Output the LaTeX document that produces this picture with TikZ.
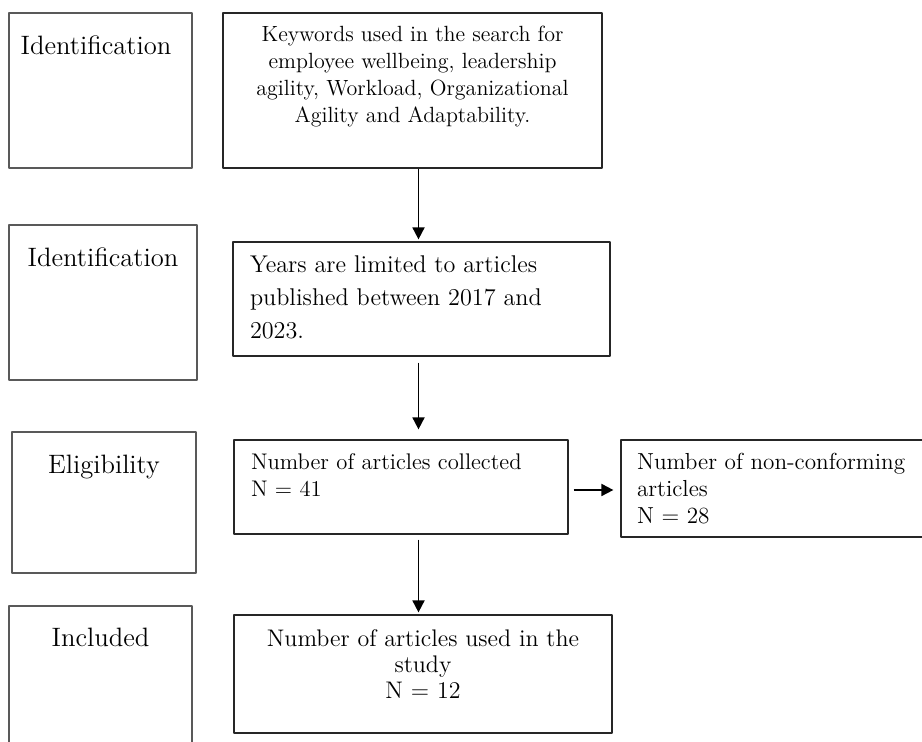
\documentclass[tikz,border=0pt]{standalone}
\usetikzlibrary{arrows.meta,positioning}
% box text: width, height, first baseline, alignment, text
\newcommand{\tbox}[5]{\parbox[c][#2][t]{#1}{#4\rule{0pt}{#3}#5}}
\newcommand{\labfont}{\fontsize{13.3}{16}\selectfont}
\newcommand{\leftpad}[1]{\raggedright\leftskip=#1}
\begin{document}
\begin{tikzpicture}[x=0.5pt,y=-0.5pt,line join=round,
	lab/.style={draw=black!65,line width=0.65pt,inner sep=0pt,font=\labfont},
	stage/.style={draw=black!85,line width=0.6pt,inner sep=0pt},
	flow/.style={-{Stealth[inset=0pt,length=6pt,width=6pt]},line width=0.9pt}]
	\useasboundingbox (0,0) rectangle (922,742);
	\clip (0,0) rectangle (922,742);
	% left column
	\node[lab] (idA) at (100.5,90.5) {\tbox{91.5pt}{77.5pt}{21pt}{\centering}{\hspace*{-4.5pt}Identification}};
	\node[lab] (idB) at (103,302.5) {\tbox{94pt}{77.5pt}{21pt}{\centering}{Identification}};
	\node[lab] (elig) at (104,502.5) {\tbox{92pt}{70.5pt}{21pt}{\centering}{Eligibility}};
	\node[lab] (incl) at (100.5,684) {\tbox{91.5pt}{78pt}{20.5pt}{\centering}{Included}};
	% flow boxes
	\node[stage,font=\fontsize{11}{13.5}\selectfont] (kw) at (412.5,90.5) {\tbox{189.5pt}{77.5pt}{14.5pt}{\centering}{Keywords used in the search for\\ employee wellbeing, leadership\\ agility, Workload, Organizational\\ Agility and Adaptability.}};
	\node[stage,font=\fontsize{12.1}{16.5}\selectfont] (yr) at (421.5,299) {\tbox{188.5pt}{57pt}{15.5pt}{\leftpad{8.5pt}}{Years are limited to articles\\ published between 2017 and\\ 2023.}};
	\node[stage,font=\fontsize{11.3}{13.5}\selectfont] (coll) at (401,487) {\tbox{167pt}{47pt}{15pt}{\leftpad{8.5pt}}{Number of articles collected\\ N = 41}};
	\node[stage,font=\fontsize{11.6}{13.5}\selectfont] (nonc) at (776.5,488.5) {\tbox{155.5pt}{48.5pt}{15pt}{\leftpad{8pt}}{Number of non-conforming\\ articles\\ N = 28}};
	\node[stage,font=\fontsize{12}{13}\selectfont] (used) at (423,674) {\tbox{189pt}{59pt}{16pt}{\centering}{Number of articles used in the\\ study\\ N = 12}};
	% arrows
	\coordinate (col) at (418.5,0);
	\draw[flow,shorten >=1pt] (kw.south -| col) -- (yr.north -| col);
	\draw[flow,shorten <=3pt,shorten >=5pt] (yr.south -| col) -- (coll.north -| col);
	\draw[flow,shorten <=2.5pt,shorten >=3.5pt] ([yshift=-1.5pt]coll.east) -- ([yshift=-1.5pt]coll.east -| nonc.west);
	\draw[flow,shorten <=2.5pt,shorten >=1pt] (coll.south -| col) -- (used.north -| col);
\end{tikzpicture}
\end{document}
